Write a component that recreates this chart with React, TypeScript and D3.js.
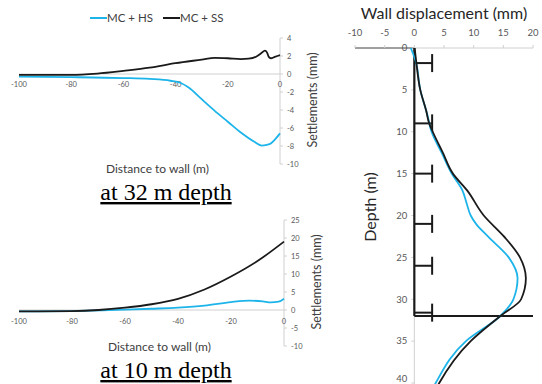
import React, { useEffect, useRef } from 'react';
import * as d3 from 'd3';

// settlement profiles at 32 m depth (distance to wall in m, settlement in mm)
const hs32Distance = [-100, -80, -60, -50, -42, -38, -35, -30, -25, -20, -15, -10, -7, -4, -2, 0];
const hs32Settlement = [-0.3, -0.35, -0.45, -0.55, -0.75, -1.0, -1.5, -2.8, -4.1, -5.3, -6.5, -7.5, -7.95, -7.8, -7.3, -6.6];
const ss32Distance = [-100, -80, -70, -60, -50, -40, -30, -25, -20, -15, -12, -9, -7, -5.8, -5, -4.3, -3.5, -2, 0];
const ss32Settlement = [-0.1, -0.1, 0.05, 0.35, 0.7, 1.2, 1.6, 1.8, 1.75, 1.65, 1.7, 1.95, 2.35, 2.6, 2.4, 1.9, 1.75, 1.9, 2.1];

// settlement profiles at 10 m depth
const hs10Distance = [-100, -80, -60, -50, -40, -30, -20, -13, -8, -5, -2, 0];
const hs10Settlement = [-0.4, -0.3, 0.1, 0.35, 0.65, 1.2, 2.2, 2.6, 2.4, 2.1, 2.3, 3.1];
const ss10Distance = [-100, -80, -70, -60, -50, -40, -30, -20, -10, 0];
const ss10Settlement = [-0.4, -0.3, 0.0, 0.65, 1.6, 3.1, 5.7, 9.3, 13.6, 19.0];

// wall displacement profiles (depth in m, displacement in mm)
const hsDepth = [0, 1.5, 5, 8, 10, 12.5, 15, 17, 18.5, 20, 21, 22.5, 25, 27.5, 30, 32, 35, 40, 42];
const hsDisplacement = [-0.6, 0.2, 1.0, 2.2, 2.9, 4.6, 6.3, 8.1, 8.8, 9.5, 10.4, 12.4, 15.9, 17.4, 16.7, 14.5, 8.7, 3.6, 2.2];
const ssDepth = [0, 1.5, 5, 7.5, 9, 10, 12.5, 15, 17, 20, 22.5, 25, 27.5, 30, 32, 35, 40, 42];
const ssDisplacement = [0.05, 0.3, 1.0, 2.0, 2.5, 3.1, 4.8, 6.5, 8.9, 11.7, 15.1, 17.8, 18.8, 18.0, 14.5, 9.5, 4.2, 2.8];

// wall geometry
const strutDepths = [1.8, 9, 15, 21, 26, 31.6];
const strutLength = 3;
const wallDepth = 32;

const distTicks = [-100, -80, -60, -40, -20, 0];
const set32Ticks = [4, 2, 0, -2, -4, -6, -8, -10];
const set10Ticks = [25, 20, 15, 10, 5, 0, -5, -10];
const dispTicks = [-10, -5, 0, 5, 10, 15, 20];
const depthTicks = [0, 5, 10, 15, 20, 25, 30, 35, 40];

const legendLabels = ['MC + HS', 'MC + SS'];
const BLUE = '#1db4ea';
const BLACK = '#1a1a1a';
const AXIS = '#d0d0d0';
const TICK_TEXT = '#595959';
const FONT = 'Lato, "Open Sans", sans-serif';

const App = () => {
  const ref = useRef(null);

  useEffect(() => {
    const svg = d3.select(ref.current);
    svg.selectAll('*').remove();

    const zip = (xs, ys) => xs.map((x, i) => [x, ys[i]]);

    // one settlement panel
    const drawSettlement = (x, y, ticks, hs, ss, labelY, titleY, captionY, caption) => {
      const g = svg.append('g');
      const x0 = x(0);
      const y0 = y(0);
      const [yMin, yMax] = y.domain();

      // axes
      g.append('line').attr('x1', x(-100)).attr('x2', x0).attr('y1', y0).attr('y2', y0)
        .attr('stroke', AXIS).attr('stroke-width', 1);
      g.append('line').attr('x1', x0).attr('x2', x0).attr('y1', y(yMax)).attr('y2', y(yMin))
        .attr('stroke', AXIS).attr('stroke-width', 1);

      g.selectAll('.ytick').data(ticks).enter().append('line')
        .attr('x1', x0).attr('x2', x0 + 3).attr('y1', d => y(d)).attr('y2', d => y(d))
        .attr('stroke', AXIS);

      g.selectAll('.ylab').data(ticks).enter().append('text')
        .attr('x', x0 + 7).attr('y', d => y(d)).attr('dy', '0.35em')
        .attr('font-size', 7.5).attr('fill', TICK_TEXT).attr('font-family', FONT)
        .text(d => d);

      g.selectAll('.xlab').data(distTicks).enter().append('text')
        .attr('x', d => x(d)).attr('y', labelY).attr('dy', '0.35em')
        .attr('text-anchor', 'middle')
        .attr('font-size', 7.5).attr('fill', TICK_TEXT).attr('font-family', FONT)
        .text(d => d);

      const line = d3.line().x(d => x(d[0])).y(d => y(d[1])).curve(d3.curveMonotoneX);

      g.append('path').attr('d', line(hs)).attr('fill', 'none')
        .attr('stroke', BLUE).attr('stroke-width', 1.8);
      g.append('path').attr('d', line(ss)).attr('fill', 'none')
        .attr('stroke', BLACK).attr('stroke-width', 1.8);

      // axis titles
      g.append('text')
        .attr('transform', `translate(${x0 + 33},${(y(yMax) + y(yMin)) / 2 - 1}) rotate(-90)`)
        .attr('text-anchor', 'middle').attr('dy', '0.35em')
        .attr('font-size', 12.5).attr('fill', '#404040').attr('font-family', FONT)
        .text('Settlements (mm)');

      g.append('text')
        .attr('x', (x(-100) + x0) / 2 + 8).attr('y', titleY).attr('dy', '0.35em')
        .attr('text-anchor', 'middle')
        .attr('font-size', 12).attr('fill', '#404040').attr('font-family', FONT)
        .text('Distance to wall (m)');

      g.append('text')
        .attr('x', 166).attr('y', captionY)
        .attr('text-anchor', 'middle')
        .attr('font-size', 24).attr('fill', '#000').attr('font-family', '"Liberation Serif", "Times New Roman", serif')
        .attr('text-decoration', 'underline')
        .text(caption);
    };

    const x32 = d3.scaleLinear().domain([-100, 0]).range([19, 280]);
    const y32 = d3.scaleLinear().domain([-10, 4]).range([164, 38]);
    drawSettlement(x32, y32, set32Ticks, zip(hs32Distance, hs32Settlement), zip(ss32Distance, ss32Settlement),
      84, 169, 200, 'at 32 m depth');

    const x10 = d3.scaleLinear().domain([-100, 0]).range([19, 284]);
    const y10 = d3.scaleLinear().domain([-10, 25]).range([346, 220]);
    drawSettlement(x10, y10, set10Ticks, zip(hs10Distance, hs10Settlement), zip(ss10Distance, ss10Settlement),
      321, 347, 378, 'at 10 m depth');

    // legend
    const legend = svg.append('g').attr('transform', 'translate(90,18)');
    [BLUE, BLACK].forEach((c, i) => {
      const lx = i * 73;
      legend.append('line').attr('x1', lx).attr('x2', lx + 17).attr('y1', 0).attr('y2', 0)
        .attr('stroke', c).attr('stroke-width', 2);
      legend.append('text').attr('x', lx + 17).attr('y', 0).attr('dy', '0.35em')
        .attr('font-size', 11.5).attr('fill', '#404040').attr('font-family', FONT)
        .text(legendLabels[i]);
    });

    // wall displacement panel
    const xd = d3.scaleLinear().domain([-10, 20]).range([355, 533]);
    const yd = d3.scaleLinear().domain([0, 40]).range([48, 383]);
    const w = svg.append('g');

    w.append('line').attr('x1', xd(0)).attr('x2', xd(20)).attr('y1', yd(0)).attr('y2', yd(0))
      .attr('stroke', AXIS);
    w.append('line').attr('x1', xd(-10)).attr('x2', xd(0)).attr('y1', yd(0)).attr('y2', yd(0))
      .attr('stroke', '#404040');
    w.append('line').attr('x1', xd(0)).attr('x2', xd(0)).attr('y1', yd(0)).attr('y2', 384)
      .attr('stroke', AXIS);

    w.selectAll('.dxtick').data(dispTicks).enter().append('line')
      .attr('x1', d => xd(d)).attr('x2', d => xd(d)).attr('y1', yd(0) - 3).attr('y2', yd(0))
      .attr('stroke', AXIS);
    w.selectAll('.dytick').data(depthTicks).enter().append('line')
      .attr('x1', xd(0) - 3).attr('x2', xd(0)).attr('y1', d => yd(d)).attr('y2', d => yd(d))
      .attr('stroke', AXIS);

    w.selectAll('.dx').data(dispTicks).enter().append('text')
      .attr('x', d => xd(d)).attr('y', 33).attr('dy', '0.35em')
      .attr('text-anchor', 'middle')
      .attr('font-size', 9.5).attr('fill', TICK_TEXT).attr('font-family', FONT)
      .text(d => d);
    w.selectAll('.dy').data(depthTicks).enter().append('text')
      .attr('x', xd(0) - 7).attr('y', d => Math.min(yd(d), 379)).attr('dy', '0.35em')
      .attr('text-anchor', 'end')
      .attr('font-size', 9.5).attr('fill', TICK_TEXT).attr('font-family', FONT)
      .text(d => d);

    w.append('text')
      .attr('x', 444).attr('y', 13).attr('dy', '0.35em')
      .attr('text-anchor', 'middle')
      .attr('font-size', 16).attr('fill', '#262626').attr('font-family', FONT)
      .text('Wall displacement (mm)');
    w.append('text')
      .attr('transform', `translate(370,207) rotate(-90)`)
      .attr('text-anchor', 'middle').attr('dy', '0.35em')
      .attr('font-size', 16).attr('fill', '#262626').attr('font-family', FONT)
      .text('Depth (m)');

    // wall, struts and excavation base
    w.append('line').attr('x1', xd(0)).attr('x2', xd(0)).attr('y1', yd(0)).attr('y2', yd(wallDepth))
      .attr('stroke', BLACK).attr('stroke-width', 2.2);
    strutDepths.forEach(d => {
      w.append('line').attr('x1', xd(0)).attr('x2', xd(strutLength)).attr('y1', yd(d)).attr('y2', yd(d))
        .attr('stroke', BLACK).attr('stroke-width', 2);
      w.append('line').attr('x1', xd(strutLength)).attr('x2', xd(strutLength))
        .attr('y1', yd(d) - 9).attr('y2', yd(d) + 9)
        .attr('stroke', BLACK).attr('stroke-width', 2);
    });
    w.append('line').attr('x1', xd(0)).attr('x2', xd(20)).attr('y1', yd(wallDepth)).attr('y2', yd(wallDepth))
      .attr('stroke', BLACK).attr('stroke-width', 2);

    const dline = d3.line().x(d => xd(d[0])).y(d => yd(d[1])).curve(d3.curveMonotoneY);
    w.append('path').attr('d', dline(zip(hsDisplacement, hsDepth))).attr('fill', 'none')
      .attr('stroke', BLUE).attr('stroke-width', 1.8);
    w.append('path').attr('d', dline(zip(ssDisplacement, ssDepth))).attr('fill', 'none')
      .attr('stroke', BLACK).attr('stroke-width', 1.8);
  }, []);

  return (
    <svg ref={ref} width={542} height={384}
      style={{ position: 'absolute', left: 0, top: 0, background: '#fff' }} />
  );
};

export default App;
